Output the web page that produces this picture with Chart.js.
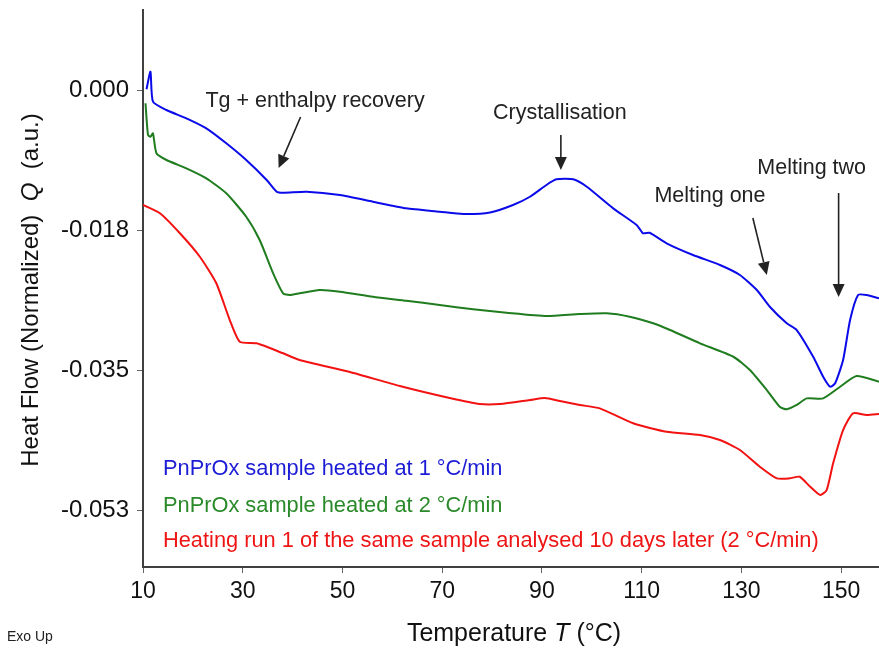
<!DOCTYPE html>
<html>
<head>
<meta charset="utf-8">
<script src="https://cdn.jsdelivr.net/npm/chart.js@4.4.0/dist/chart.umd.min.js"></script>
<style>
  body { margin: 0; background: #fff; }
  canvas { display: block; }
</style>
</head>
<body>
<canvas id="dscChart" width="879" height="650"></canvas>
<script>
// Werte
const xTicks = [10, 30, 50, 70, 90, 110, 130, 150];
const yTicks = [0, -0.0175, -0.035, -0.0525];
const yTickLabels = ["0.000", "-0.018", "-0.035", "-0.053"];

const blueT = [10.7, 11.5, 12.0, 14.7, 18.7, 22.7, 26.7, 30.7, 34.8, 36.8, 38.1, 42.8, 49.5, 56.1, 62.8, 69.5, 74.2, 79.6, 84.2, 87.6, 90.9, 92.9, 96.3, 99.0, 104.3, 109.0, 110.3, 111.6, 115.0, 120.3, 125.7, 129.7, 133.1, 135.7, 139.1, 141.1, 144.4, 146.4, 147.8, 148.8, 150.4, 151.8, 153.4, 155.1, 157.6];
const blueQ = [0.00015, 0.00235, -0.0014, -0.00244, -0.00348, -0.00473, -0.0066, -0.00869, -0.01119, -0.01265, -0.01278, -0.01265, -0.01306, -0.0139, -0.01473, -0.01515, -0.01544, -0.01525, -0.01431, -0.01328, -0.01181, -0.0111, -0.0111, -0.01203, -0.01473, -0.01681, -0.01785, -0.01778, -0.0191, -0.02056, -0.02181, -0.02306, -0.02494, -0.02703, -0.0291, -0.02994, -0.03328, -0.03578, -0.03703, -0.0366, -0.03369, -0.02869, -0.02556, -0.02556, -0.02598];

const greenT = [10.5, 11.0, 11.5, 12.0, 12.7, 14.7, 18.7, 22.7, 26.7, 30.7, 33.4, 36.1, 38.1, 39.4, 41.4, 45.4, 49.5, 56.1, 62.8, 69.5, 76.2, 82.9, 90.9, 97.6, 103.0, 107.6, 112.3, 115.7, 121.7, 128.4, 131.7, 135.1, 137.7, 139.1, 141.1, 143.1, 146.4, 149.8, 153.1, 157.6];
const greenQ = [-0.0016, -0.00556, -0.00578, -0.00535, -0.00785, -0.00869, -0.00973, -0.01098, -0.01285, -0.01578, -0.01869, -0.02285, -0.02535, -0.02556, -0.02535, -0.02494, -0.02515, -0.02578, -0.02628, -0.02681, -0.02735, -0.02778, -0.02819, -0.02794, -0.02785, -0.02828, -0.0291, -0.02994, -0.0316, -0.03328, -0.03494, -0.03744, -0.03953, -0.03985, -0.03931, -0.03848, -0.03848, -0.03703, -0.03569, -0.0364];

const redT = [10.0, 13.4, 17.4, 21.4, 24.7, 27.4, 29.4, 32.8, 38.1, 41.4, 51.5, 61.5, 71.5, 77.5, 81.6, 87.6, 90.6, 93.6, 97.6, 101.6, 108.3, 115.0, 121.7, 125.7, 129.7, 133.7, 137.1, 139.7, 141.7, 143.8, 145.8, 147.1, 148.4, 150.4, 152.4, 155.1, 157.6];
const redQ = [-0.01431, -0.01535, -0.01785, -0.02078, -0.0241, -0.02869, -0.0314, -0.0316, -0.03285, -0.03369, -0.03519, -0.03694, -0.03844, -0.03919, -0.03919, -0.03869, -0.03844, -0.03881, -0.03931, -0.03973, -0.0416, -0.04265, -0.04306, -0.04369, -0.04494, -0.04703, -0.04848, -0.04848, -0.04828, -0.04953, -0.05056, -0.04994, -0.0466, -0.04244, -0.04035, -0.04056, -0.04044];

const seriesLabels = [
    "PnPrOx sample heated at 1 \u00B0C/min",
    "PnPrOx sample heated at 2 \u00B0C/min",
    "Heating run 1 of the same sample analysed 10 days later (2 \u00B0C/min)"
];

// Beschriftungen mit Pfeilen (Datenkoordinaten)
const annotations = [
    { text: "Tg + enthalpy recovery", tx: 44.5, ty: -0.00131, from: [41.6, -0.00331], to: [37.2, -0.00969] },
    { text: "Crystallisation", tx: 93.6, ty: -0.00281, from: [93.8, -0.00556], to: [93.8, -0.00994] },
    { text: "Melting one", tx: 123.7, ty: -0.01319, from: [132.3, -0.01594], to: [135.1, -0.02306] },
    { text: "Melting two", tx: 144.1, ty: -0.00969, from: [149.5, -0.01281], to: [149.5, -0.02581] }
];

const FONT = "'Liberation Sans', Arial, sans-serif";

function zip(xs, ys) {
    return xs.map((x, i) => ({ x: x, y: ys[i] }));
}

function drawParts(ctx, parts, cx, cy, rot, size) {
    ctx.save();
    ctx.translate(cx, cy);
    ctx.rotate(rot);
    ctx.textAlign = "left";
    ctx.textBaseline = "middle";
    let total = 0;
    parts.forEach(p => {
        ctx.font = p[1] + " " + size + "px " + FONT;
        total += ctx.measureText(p[0]).width;
    });
    let x = -total / 2;
    parts.forEach(p => {
        ctx.font = p[1] + " " + size + "px " + FONT;
        ctx.fillText(p[0], x, 0);
        x += ctx.measureText(p[0]).width;
    });
    ctx.restore();
}

const extraDrawing = {
    id: "extraDrawing",
    afterDraw(chart) {
        const ctx = chart.ctx;
        const xs = chart.scales.x;
        const ys = chart.scales.y;
        const area = chart.chartArea;

        ctx.save();
        ctx.fillStyle = "#222";
        ctx.strokeStyle = "#222";
        ctx.textAlign = "center";
        ctx.textBaseline = "middle";

        // Annotationen
        annotations.forEach(a => {
            ctx.font = "21.5px " + FONT;
            ctx.fillText(a.text, xs.getPixelForValue(a.tx), ys.getPixelForValue(a.ty));

            const x1 = xs.getPixelForValue(a.from[0]), y1 = ys.getPixelForValue(a.from[1]);
            const x2 = xs.getPixelForValue(a.to[0]), y2 = ys.getPixelForValue(a.to[1]);
            const ang = Math.atan2(y2 - y1, x2 - x1);
            const head = 13, half = 6;
            const bx = x2 - head * Math.cos(ang), by = y2 - head * Math.sin(ang);
            ctx.lineWidth = 1.6;
            ctx.beginPath();
            ctx.moveTo(x1, y1);
            ctx.lineTo(bx, by);
            ctx.stroke();
            ctx.beginPath();
            ctx.moveTo(x2, y2);
            ctx.lineTo(bx + half * Math.sin(ang), by - half * Math.cos(ang));
            ctx.lineTo(bx - half * Math.sin(ang), by + half * Math.cos(ang));
            ctx.closePath();
            ctx.fill();
        });

        // Legende als Text
        ctx.textAlign = "left";
        ctx.font = "21.8px " + FONT;
        const legendY = [469, 506, 541];
        chart.data.datasets.forEach((ds, i) => {
            ctx.fillStyle = ds.legendColor;
            ctx.fillText(ds.label, area.left + 20, legendY[i]);
        });

        // Achsentitel
        ctx.fillStyle = "#111";
        drawParts(ctx, [["Temperature ", "normal"], ["T", "italic"], [" (\u00B0C)", "normal"]], 514, 634, 0, 25);
        drawParts(ctx, [["Heat Flow (Normalized)  ", "normal"], ["Q", "italic"], ["  (a.u.)", "normal"]], 31, 290, -Math.PI / 2, 24);

        ctx.font = "14px " + FONT;
        ctx.textAlign = "left";
        ctx.fillStyle = "#222";
        ctx.fillText("Exo Up", 7, 637);
        ctx.restore();
    }
};

const ctx = document.getElementById("dscChart").getContext("2d");

new Chart(ctx, {
    type: "scatter",
    data: {
        datasets: [
            { label: seriesLabels[0], data: zip(blueT, blueQ), borderColor: "#0b0bea", legendColor: "#1c1cd6" },
            { label: seriesLabels[1], data: zip(greenT, greenQ), borderColor: "#1f7d1f", legendColor: "#2a8a2a" },
            { label: seriesLabels[2], data: zip(redT, redQ), borderColor: "#f21212", legendColor: "#ee1515" }
        ].map(ds => Object.assign(ds, {
            showLine: true,
            pointRadius: 0,
            borderWidth: 2,
            tension: 0.2,
            fill: false
        }))
    },
    options: {
        responsive: false,
        animation: false,
        layout: { padding: { top: 10, left: 0, right: 0, bottom: 0 } },
        plugins: {
            legend: { display: false },
            tooltip: { enabled: false }
        },
        scales: {
            x: {
                type: "linear",
                min: 10,
                max: 157.6,
                afterFit: s => { s.height = 83; s.paddingLeft = 0; s.paddingRight = 0; },
                afterBuildTicks: s => { s.ticks = xTicks.map(v => ({ value: v })); },
                border: { display: true, color: "#404040", width: 2 },
                grid: { display: true, drawOnChartArea: false, drawTicks: true, tickLength: 6, color: "#666", tickWidth: 1 },
                ticks: {
                    color: "#111",
                    padding: 5,
                    maxRotation: 0,
                    font: { family: FONT, size: 23 }
                }
            },
            y: {
                type: "linear",
                min: -0.05956,
                max: 0.01006,
                afterFit: s => { s.width = 143; s.paddingTop = 0; s.paddingBottom = 0; },
                afterBuildTicks: s => { s.ticks = yTicks.map(v => ({ value: v })); },
                border: { display: true, color: "#404040", width: 2 },
                grid: { display: true, drawOnChartArea: false, drawTicks: true, tickLength: 6, color: "#666", tickWidth: 1 },
                ticks: {
                    color: "#111",
                    padding: 8,
                    font: { family: FONT, size: 24 },
                    callback: function(value, index) {
                        return yTickLabels[index];
                    }
                }
            }
        }
    },
    plugins: [extraDrawing]
});
</script>
</body>
</html>
